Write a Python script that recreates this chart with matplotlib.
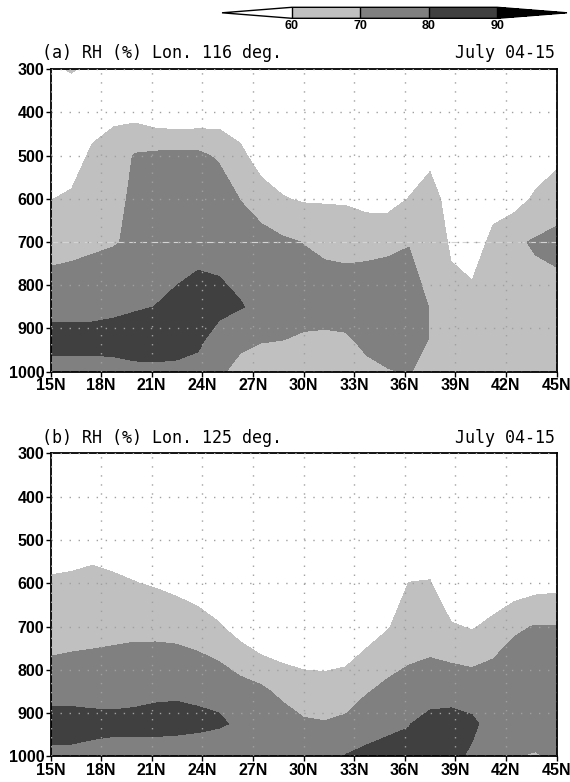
#RH latitude-pressure cross sections, two longitudes (GrADS style shading)

from matplotlib import pyplot as plt
import numpy as np

#grid: latitude every 1.25 deg, pressure levels in hPa
lats = np.arange(15, 45.01, 1.25)
levs = [1000, 925, 850, 700, 600, 500, 400, 300]

#(a) Lon. 116 deg. - RH (%), one row per level
a1000 = [75, 75.3, 75.9, 73.9, 76, 76.5, 76, 77.6, 72, 66, 66, 63, 63, 64, 65, 68, 69.5, 70.5, 67, 64, 64, 65, 65, 65, 64]
a925 = [85, 84.8, 84, 87, 88, 88, 87, 81.5, 76.9, 73, 70.5, 70.2, 68.7, 68.2, 68.9, 72, 74, 75, 69.5, 65, 64, 65, 66, 66, 65]
a850 = [75, 75.8, 76.5, 76.3, 78.5, 80.2, 82, 83.9, 82.2, 80.5, 78, 77, 74.1, 74, 73.9, 76, 77, 77, 69.5, 63.5, 62.8, 64, 66, 66, 66]
a700 = [67, 67.5, 68.5, 69.5, 71.3, 74, 76, 77, 77.5, 76, 74.5, 71.5, 69.8, 68.5, 68, 67.4, 67.9, 69.4, 67, 58.5, 56, 62, 68.5, 71, 72.5]
a600 = [59.7, 61.5, 65, 67, 72, 74, 75, 75, 76.5, 69.7, 64, 60.6, 59, 58.8, 58.5, 56.4, 56.1, 60.3, 65, 55, 50, 57, 56, 61.5, 65.6]
a500 = [55, 55, 62, 64, 70.8, 72, 72.5, 72.2, 68.5, 62, 56, 54, 52, 52, 52, 51, 52, 54, 57, 50, 48, 52, 52, 54, 57.3]
a400 = [52, 50, 55, 58, 56.5, 53, 51.7, 52.5, 54.6, 55, 52, 50, 49, 48, 48, 47, 47, 48, 50, 47, 46, 48, 48, 50, 52]
a300 = [58, 61, 57, 54, 52, 50, 50, 50, 50, 50, 48, 47, 46, 45, 45, 45, 45, 45, 45, 44, 44, 44, 45, 45, 45]

#(b) Lon. 125 deg.
b1000 = [76.4, 76.8, 75.9, 75.2, 74, 74.3, 73.6, 72, 72.2, 73, 72, 73, 72, 72, 80.5, 81.6, 83.2, 84, 86, 82, 78.8, 72, 70.3, 69, 72]
b925 = [86.1, 85.3, 83.8, 83, 83.8, 83.6, 83.4, 82.9, 81.2, 78.5, 75, 75.7, 71, 70.5, 71.4, 77, 78, 79.5, 84.6, 83.1, 81.4, 77, 76, 76, 77]
b850 = [74.7, 75.4, 75.6, 76, 76.3, 78, 78.5, 77.5, 77.6, 74.4, 72.2, 67.3, 66, 65.3, 66.7, 69.3, 72.7, 73.4, 73.8, 76.8, 76.3, 77.4, 77, 77, 77]
b700 = [66, 66.5, 67, 67.5, 68, 67.5, 66.8, 65.3, 60.9, 55.6, 50.4, 50.4, 48, 48, 49, 55.4, 59.3, 65, 66.5, 61.1, 59.1, 62.6, 68.7, 70.4, 70.4]
b600 = [61.2, 61.5, 62.5, 61.5, 60.3, 59, 57, 53.7, 52, 48, 46, 46, 45, 45, 46, 50, 54, 60.2, 60.7, 50.7, 50, 52.8, 53.6, 56.1, 56.9]
b500 = [55, 56, 56.5, 55.5, 54, 53, 52, 50, 48, 46, 44, 44, 43, 43, 44, 46, 48, 52, 52, 47, 46, 47, 48, 48, 49]
b400 = [48, 49, 49, 48, 47, 46, 46, 45, 44, 43, 42, 42, 41, 41, 42, 43, 44, 45, 45, 44, 43, 43, 44, 44, 44]
b300 = [42, 42, 42, 42, 41, 41, 41, 40, 40, 40, 40, 40, 40, 40, 40, 40, 40, 40, 40, 40, 40, 40, 40, 40, 40]

clevs = [60, 70, 80, 90]
shades = ['white', '#c0c0c0', '#808080', '#404040', 'black']
xticks = np.arange(15, 46, 3)
xlabels = ['%dN' % v for v in xticks]
yticks = np.arange(300, 1001, 100)

titles = ['(a) RH (%) Lon. 116 deg.', '(b) RH (%) Lon. 125 deg.']
period = 'July 04-15'

rh_a = np.array([a1000, a925, a850, a700, a600, a500, a400, a300])
rh_b = np.array([b1000, b925, b850, b700, b600, b500, b400, b300])

tickfont = {'family': 'Liberation Sans', 'weight': 'bold', 'size': 11.5}
titlefont = {'family': 'DejaVu Sans Mono', 'size': 12}

fig = plt.figure(figsize=(5.7, 7.82), dpi=100)
ax_a = fig.add_axes([50.5/570, 1-371.7/782, 506/570, 302.5/782])
ax_b = fig.add_axes([50.5/570, 1-756.3/782, 506/570, 302.8/782])

for ax, rh, title in [(ax_a, rh_a, titles[0]), (ax_b, rh_b, titles[1])]:
    cf = ax.contourf(lats, levs, rh, levels=clevs, colors=shades, extend='both')
    ax.set_xlim(15, 45)
    ax.set_ylim(1000, 300)
    ax.set_xticks(xticks)
    ax.set_xticklabels(xlabels, fontdict=tickfont)
    ax.set_yticks(yticks)
    ax.set_yticklabels(['%d' % v for v in yticks], fontdict=tickfont)
    ax.tick_params(direction='out', length=3.5, width=1, pad=1.0)
    ax.set_axisbelow(False)
    ax.grid(True, color='#a0a0a0', lw=1.0, ls=(0, (1, 5.5)))
    for s in ax.spines.values():
        s.set_linewidth(1.3)
    ax.text(-0.017, 1.036, title, transform=ax.transAxes, ha='left', va='baseline', **titlefont)
    ax.text(0.997, 1.036, period, transform=ax.transAxes, ha='right', va='baseline', **titlefont)

#faint dashed line at 700 hPa in panel (a)
ax_a.axhline(700, color='#d4d4d4', lw=0.8, ls=(0, (6, 4)), zorder=2)

#colour bar at the top right
cax = fig.add_axes([222/570, 1-18.3/782, 345/570, 11/782])
cb = fig.colorbar(cf, cax=cax, orientation='horizontal', extend='both', extendfrac=0.34, drawedges=True)
cb.outline.set_linewidth(1.0)
cb.dividers.set_linewidth(1.0)
cb.set_ticks(clevs)
cb.set_ticklabels(['%d' % v for v in clevs], fontdict={'family': 'Liberation Sans', 'weight': 'bold', 'size': 9})
cb.ax.tick_params(length=0, pad=1.0)

fig.savefig('out.png', dpi=100)
